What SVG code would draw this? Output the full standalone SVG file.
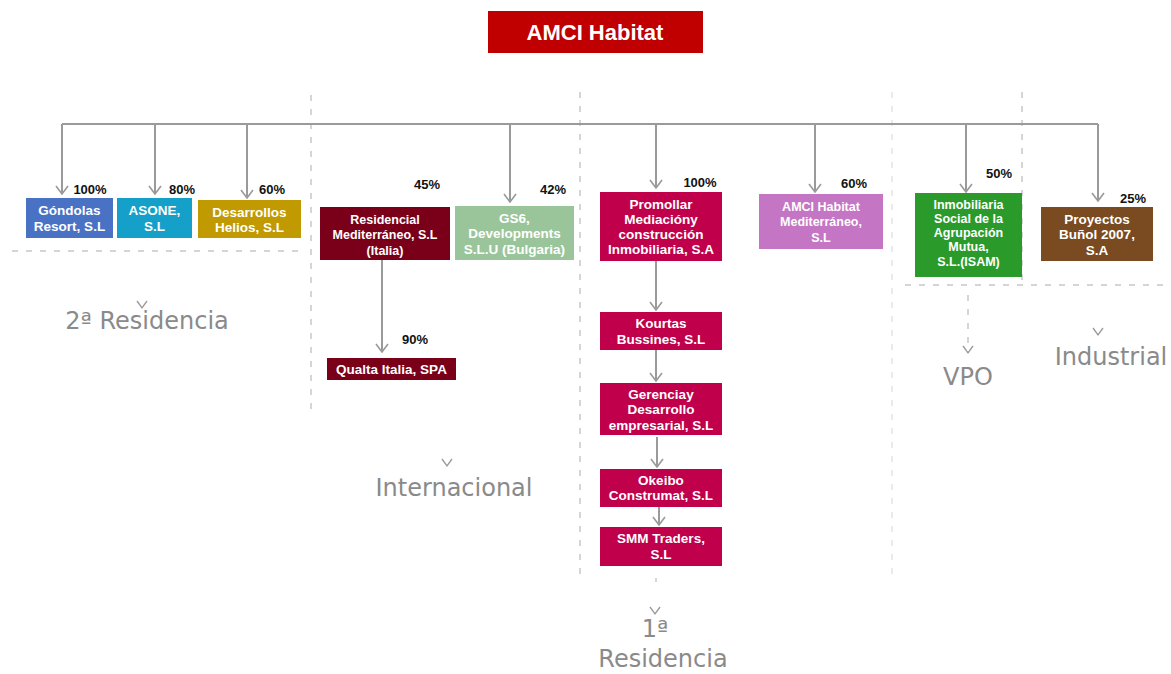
<svg xmlns="http://www.w3.org/2000/svg" width="1171" height="674" viewBox="0 0 1171 674">
<style>
.t{font-family:"Liberation Sans",Arial,sans-serif;font-weight:bold;fill:#fff;font-size:13.5px;text-anchor:middle}
.n{font-size:12.5px}
.p{font-family:"Liberation Sans",Arial,sans-serif;font-weight:bold;fill:#111;font-size:13px;text-anchor:middle}
.c{font-family:"DejaVu Sans",sans-serif;fill:#8a8a8a;font-size:24px;text-anchor:middle}
.ln{stroke:#9a9a9a;stroke-width:2;fill:none}
.sep{stroke:#c8c8c8;stroke-width:1.5;fill:none;stroke-dasharray:6 8}
.chev{stroke:#999;stroke-width:1.3;fill:none}
</style>
<defs>
<marker id="ah" viewBox="0 0 10 14" refX="9" refY="7" markerWidth="10" markerHeight="14" markerUnits="userSpaceOnUse" orient="auto">
<polyline points="1,1 9,7 1,13" fill="none" stroke="#9a9a9a" stroke-width="1.6"/>
</marker>
</defs>
<rect width="1171" height="674" fill="#fff"/>

<g id="separators">
<line class="sep" x1="311" y1="95" x2="311" y2="410"/>
<line class="sep" x1="580" y1="92" x2="580" y2="575"/>
<line class="sep" x1="892" y1="92" x2="892" y2="575" stroke-opacity="0.5"/>
<line class="sep" x1="1022" y1="92" x2="1022" y2="282"/>
<line class="sep" x1="12" y1="251" x2="300" y2="251"/>
<line class="sep" x1="905" y1="285" x2="1171" y2="285"/>
<line class="sep" x1="968" y1="295" x2="968" y2="345" stroke-dasharray="3 5"/>
<line class="sep" x1="656" y1="578" x2="656" y2="582"/>
</g>

<g id="connectors">
<polyline class="ln" points="62,124 1098,124"/>
<line class="ln" x1="62" y1="124" x2="62" y2="194" marker-end="url(#ah)"/>
<line class="ln" x1="155" y1="124" x2="155" y2="194" marker-end="url(#ah)"/>
<line class="ln" x1="247" y1="124" x2="247" y2="198" marker-end="url(#ah)" stroke-width="3"/>
<line class="ln" x1="510" y1="124" x2="510" y2="202" marker-end="url(#ah)" stroke-width="3"/>
<line class="ln" x1="656" y1="124" x2="656" y2="188" marker-end="url(#ah)"/>
<line class="ln" x1="815" y1="124" x2="815" y2="192" marker-end="url(#ah)"/>
<line class="ln" x1="966" y1="124" x2="966" y2="192" marker-end="url(#ah)"/>
<line class="ln" x1="1098" y1="124" x2="1098" y2="201" marker-end="url(#ah)"/>
<line class="ln" x1="382" y1="260" x2="382" y2="352" marker-end="url(#ah)"/>
<line class="ln" x1="656" y1="261" x2="656" y2="310" marker-end="url(#ah)"/>
<line class="ln" x1="656" y1="350" x2="656" y2="381" marker-end="url(#ah)"/>
<line class="ln" x1="657" y1="437" x2="657" y2="467" marker-end="url(#ah)"/>
<line class="ln" x1="659" y1="507" x2="659" y2="525" marker-end="url(#ah)"/>
</g>

<g id="amci">
<rect x="488" y="11" width="215" height="42" fill="#c00000"/>
<text x="595" y="40" class="t" style="font-size:22px">AMCI Habitat</text>
</g>

<g id="gondolas">
<rect x="26" y="198" width="87" height="40" fill="#4a72c4"/>
<text x="69.5" y="215" class="t">Góndolas</text>
<text x="69.5" y="231" class="t">Resort, S.L</text>
<text x="90" y="194" class="p">100%</text>
</g>
<g id="asone">
<rect x="117" y="198" width="75" height="40" fill="#14a0c8"/>
<text x="154.5" y="215" class="t">ASONE,</text>
<text x="154.5" y="231" class="t">S.L</text>
<text x="182" y="194" class="p">80%</text>
</g>
<g id="desarrollos">
<rect x="198" y="200" width="103" height="38" fill="#c09a00"/>
<text x="249.5" y="217" class="t">Desarrollos</text>
<text x="249.5" y="232" class="t">Helios, S.L</text>
<text x="272" y="194" class="p">60%</text>
</g>
<g id="residencial">
<rect x="320" y="207" width="130" height="53" fill="#7a0019"/>
<text x="385" y="224" class="t n">Residencial</text>
<text x="385" y="239" class="t n">Mediterráneo, S.L</text>
<text x="385" y="255" class="t n">(Italia)</text>
<text x="427" y="189" class="p">45%</text>
</g>
<g id="gs6">
<rect x="455" y="206" width="119" height="54" fill="#9ac59a"/>
<text x="514.5" y="223" class="t">GS6,</text>
<text x="514.5" y="238" class="t">Developments</text>
<text x="514.5" y="254" class="t">S.L.U (Bulgaria)</text>
<text x="553" y="194" class="p">42%</text>
</g>
<g id="promollar">
<rect x="600" y="192" width="122" height="69" fill="#c0004a"/>
<text x="661" y="209" class="t">Promollar</text>
<text x="661" y="224" class="t">Mediacióny</text>
<text x="661" y="239" class="t">construcción</text>
<text x="661" y="254" class="t">Inmobiliaria, S.A</text>
<text x="700" y="187" class="p">100%</text>
</g>
<g id="amcimed">
<rect x="759" y="194" width="124" height="55" fill="#c475c4"/>
<text x="821" y="211" class="t n">AMCI Habitat</text>
<text x="821" y="226" class="t n">Mediterráneo,</text>
<text x="821" y="242" class="t n">S.L</text>
<text x="854" y="188" class="p">60%</text>
</g>
<g id="isam">
<rect x="915" y="193" width="107" height="84" fill="#2a9a2a"/>
<text x="968.5" y="209" class="t n">Inmobiliaria</text>
<text x="968.5" y="223" class="t n">Social de la</text>
<text x="968.5" y="237" class="t n">Agrupación</text>
<text x="968.5" y="251" class="t n">Mutua,</text>
<text x="968.5" y="266" class="t n">S.L.(ISAM)</text>
<text x="999" y="178" class="p">50%</text>
</g>
<g id="proyectos">
<rect x="1041" y="207" width="112" height="54" fill="#7a4a20"/>
<text x="1097" y="224" class="t">Proyectos</text>
<text x="1097" y="239" class="t">Buñol 2007,</text>
<text x="1097" y="255" class="t">S.A</text>
<text x="1133" y="203" class="p">25%</text>
</g>
<g id="qualta">
<rect x="327" y="358" width="129" height="22" fill="#7a0019"/>
<text x="391.5" y="374" class="t">Qualta Italia, SPA</text>
<text x="415" y="344" class="p">90%</text>
</g>
<g id="kourtas">
<rect x="600" y="312" width="122" height="38" fill="#c0004a"/>
<text x="661" y="328" class="t">Kourtas</text>
<text x="661" y="344" class="t">Bussines, S.L</text>
</g>
<g id="gerencia">
<rect x="600" y="383" width="122" height="52" fill="#c0004a"/>
<text x="661" y="399" class="t">Gerenciay</text>
<text x="661" y="414" class="t">Desarrollo</text>
<text x="661" y="430" class="t">empresarial, S.L</text>
</g>
<g id="okeibo">
<rect x="600" y="469" width="122" height="38" fill="#c0004a"/>
<text x="661" y="485" class="t">Okeibo</text>
<text x="661" y="500" class="t">Construmat, S.L</text>
</g>
<g id="smm">
<rect x="600" y="527" width="122" height="39" fill="#c0004a"/>
<text x="661" y="543" class="t">SMM Traders,</text>
<text x="661" y="559" class="t">S.L</text>
</g>

<g id="categories">
<polyline class="chev" points="137,301 142,308 147,301"/>
<text x="147" y="329" class="c">2ª Residencia</text>
<polyline class="chev" points="442,459 447,466 452,459"/>
<text x="454" y="496" class="c">Internacional</text>
<polyline class="chev" points="650,607 655,614 660,607"/>
<text x="655" y="637" class="c">1ª</text>
<text x="663" y="667" class="c">Residencia</text>
<polyline class="chev" points="963,346 968,353 973,346"/>
<text x="968" y="385" class="c">VPO</text>
<polyline class="chev" points="1093,328 1098,335 1103,328"/>
<text x="1111" y="365" class="c">Industrial</text>
</g>
</svg>
